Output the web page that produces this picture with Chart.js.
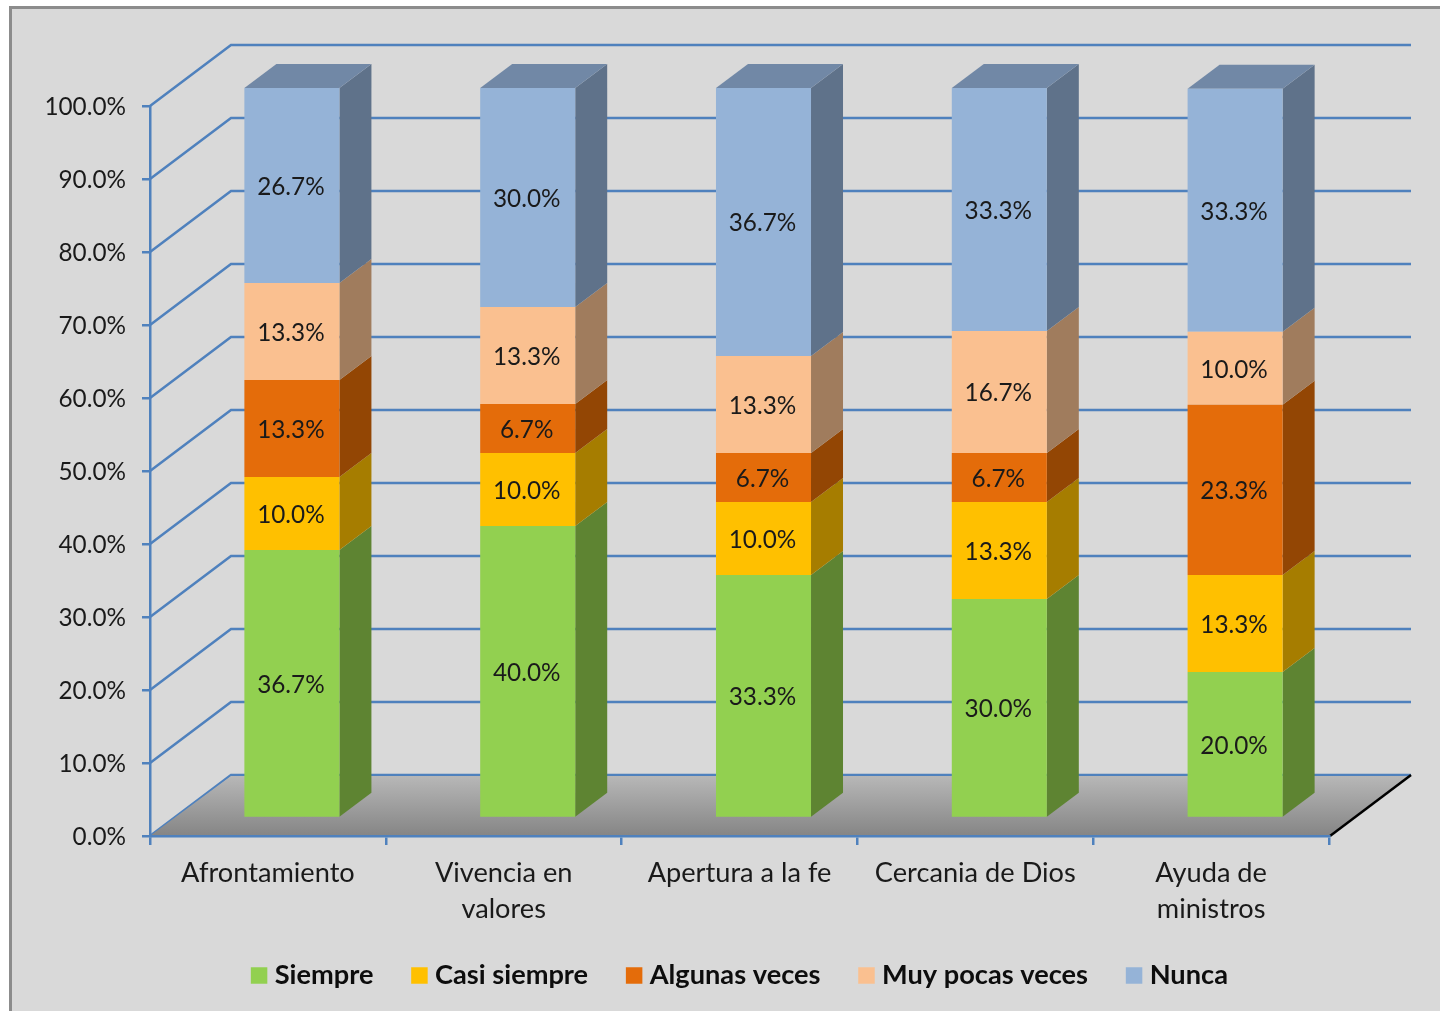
<!DOCTYPE html>
<html>
<head>
<meta charset="utf-8">
<script src="https://cdn.jsdelivr.net/npm/chart.js@4"></script>
<style>
  html, body { margin: 0; background: #fff; overflow: hidden; }
  #frame { position: absolute; left: 9px; top: 6px; width: 1431px; height: 1005px; box-sizing: border-box;
           background: #d9d9d9; border-left: 3px solid #8c8c8c; border-top: 3px solid #8c8c8c; }
  canvas { position: absolute; left: 0; top: 0; filter: blur(0.6px); }
</style>
</head>
<body>
<div id="frame"></div>
<canvas id="myChart" width="1440" height="1011"></canvas>
<script>
const categories = ["Afrontamiento", ["Vivencia en", "valores"], "Apertura a la fe", "Cercania de Dios", ["Ayuda de", "ministros"]];
const tickLabels = ["0.0%", "10.0%", "20.0%", "30.0%", "40.0%", "50.0%", "60.0%", "70.0%", "80.0%", "90.0%", "100.0%"];

const siempre = [36.7, 40.0, 33.3, 30.0, 20.0];
const casiSiempre = [10.0, 10.0, 10.0, 13.3, 13.3];
const algunasVeces = [13.3, 6.7, 6.7, 6.7, 23.3];
const muyPocasVeces = [13.3, 13.3, 13.3, 16.7, 10.0];
const nunca = [26.7, 30.0, 36.7, 33.3, 33.3];

const faceColors = ["#92d050", "#ffc000", "#e46c0a", "#fac090", "#95b3d7"];
const sideColors = ["#5e8432", "#a67d00", "#934604", "#a07c5d", "#5f728a"];
const topColor = "#7188a6";
const lineBlue = "#4f81bd";
const FONT = "Lato, 'Open Sans', sans-serif";

// the fake 3d: how far the wall and the bars sit behind the axis plane
const wall = { dx: 81, dy: -61 };
const barShift = { dx: 24, dy: -18 };
const barDepth = { dx: 32, dy: -24 };

const makeSet = (label, data, i) => ({ label, data, backgroundColor: faceColors[i], borderWidth: 0, clip: false });

function poly(ctx, pts, fill) {
  ctx.beginPath();
  pts.forEach((p, i) => (i ? ctx.lineTo(p[0], p[1]) : ctx.moveTo(p[0], p[1])));
  ctx.closePath();
  ctx.fillStyle = fill;
  ctx.fill();
}

const fake3d = {
  id: "fake3d",
  afterLayout(chart) {
    // legend sits off centre in the original
    chart.legend.left = 62.5;
    chart.legend.right = 1422.5;
    chart.legend.top = 918;
  },
  beforeDraw(chart) {
    const { ctx, chartArea: a, scales: { y } } = chart;
    const y0 = y.getPixelForValue(0);
    ctx.save();
    ctx.strokeStyle = lineBlue;
    ctx.lineWidth = 2.5;
    y.ticks.forEach((t) => {
      const py = y.getPixelForValue(t.value);
      ctx.beginPath();
      ctx.moveTo(a.left, py);
      ctx.lineTo(a.left + wall.dx, py + wall.dy);
      ctx.lineTo(a.right + wall.dx + 1, py + wall.dy);
      ctx.stroke();
    });
    // floor
    const grad = ctx.createLinearGradient(0, y0 + wall.dy, 0, y0);
    grad.addColorStop(0, "#b8b8b8");
    grad.addColorStop(1, "#858585");
    poly(ctx, [[a.left, y0], [a.left + wall.dx, y0 + wall.dy + 1], [a.right + wall.dx + 1, y0 + wall.dy + 1], [a.right + 1, y0]], grad);
    ctx.strokeStyle = "#000";
    ctx.lineWidth = 2.5;
    ctx.beginPath();
    ctx.moveTo(a.right + 1, y0);
    ctx.lineTo(a.right + wall.dx + 1, y0 + wall.dy);
    ctx.stroke();
    ctx.restore();
  },
  beforeDatasetsDraw(chart) {
    const { ctx } = chart;
    const last = chart.data.datasets.length - 1;
    ctx.save();
    ctx.translate(barShift.dx, barShift.dy);
    chart.data.datasets.forEach((ds, i) => {
      chart.getDatasetMeta(i).data.forEach((bar) => {
        const l = bar.x - bar.width / 2;
        const r = bar.x + bar.width / 2;
        poly(ctx, [[r, bar.y], [r + barDepth.dx, bar.y + barDepth.dy], [r + barDepth.dx, bar.base + barDepth.dy], [r, bar.base]], sideColors[i]);
        if (i === last) {
          poly(ctx, [[l, bar.y], [l + barDepth.dx, bar.y + barDepth.dy], [r + barDepth.dx, bar.y + barDepth.dy], [r, bar.y]], topColor);
        }
      });
    });
    // front faces get drawn by the library inside this translate
  },
  afterDatasetsDraw(chart) {
    const { ctx } = chart;
    ctx.fillStyle = "#1a1a1a";
    ctx.font = "24.3px " + FONT;
    ctx.textAlign = "center";
    ctx.textBaseline = "middle";
    chart.data.datasets.forEach((ds, i) => {
      chart.getDatasetMeta(i).data.forEach((bar, j) => {
        ctx.fillText(ds.data[j].toFixed(1) + "%", bar.x - 1, (bar.y + bar.base) / 2 + 1.5);
      });
    });
    ctx.restore();
  },
};

const config = {
  type: "bar",
  data: {
    labels: categories,
    datasets: [
      makeSet("Siempre", siempre, 0),
      makeSet("Casi siempre", casiSiempre, 1),
      makeSet("Algunas veces", algunasVeces, 2),
      makeSet("Muy pocas veces", muyPocasVeces, 3),
      makeSet("Nunca", nunca, 4),
    ],
  },
  options: {
    responsive: false,
    animation: false,
    layout: { padding: { top: 106, right: 111, left: 0, bottom: 0 } },
    datasets: { bar: { categoryPercentage: 1, barPercentage: 0.403 } },
    scales: {
      x: {
        stacked: true,
        afterFit: (s) => { s.height = 1011 - 836 - s.chart.legend.height; },
        grid: { drawOnChartArea: false, color: lineBlue, lineWidth: 2.5, tickLength: 9 },
        border: { color: lineBlue, width: 2.5 },
        ticks: { color: "#1a1a1a", font: { family: FONT, size: 27.2, lineHeight: 1.32 }, padding: 10, maxRotation: 0, autoSkip: false },
      },
      y: {
        stacked: true,
        min: 0,
        max: 100,
        afterFit: (s) => { s.width = 150; },
        grid: { drawOnChartArea: false, color: lineBlue, lineWidth: 2.5, tickLength: 8 },
        border: { color: lineBlue, width: 2.5 },
        ticks: {
          stepSize: 10,
          color: "#1a1a1a",
          font: { family: FONT, size: 24.3 },
          padding: 16,
          labelOffset: 1.5,
          callback: (v, i) => tickLabels[i],
        },
      },
    },
    plugins: {
      tooltip: { enabled: false },
      legend: {
        position: "bottom",
        labels: {
          // small box + thick stroke: gives the 16px swatch but keeps the text close to it
          boxWidth: 4,
          boxHeight: 4,
          padding: 44,
          color: "#0d0d0d",
          font: { family: FONT, size: 27.2, weight: "bold" },
          generateLabels: (chart) =>
            Chart.defaults.plugins.legend.labels.generateLabels(chart).map((item, i) => ({
              ...item,
              lineWidth: 12.5,
              strokeStyle: faceColors[i],
            })),
        },
      },
    },
  },
  plugins: [fake3d],
};

const myChart = new Chart(document.getElementById("myChart"), config);
</script>
</body>
</html>
